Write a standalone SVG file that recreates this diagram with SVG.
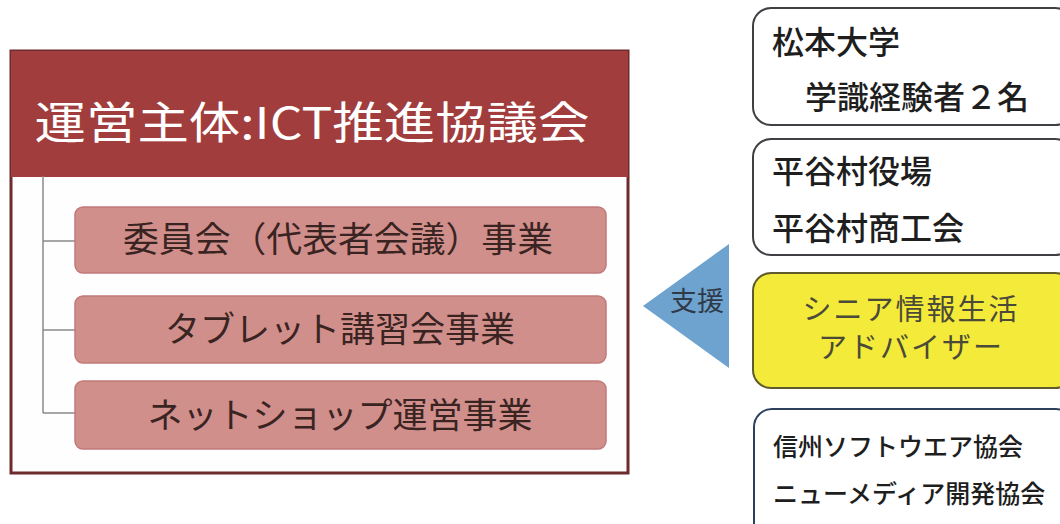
<svg xmlns="http://www.w3.org/2000/svg" width="1060" height="524" viewBox="0 0 1060 524">
<style>
text{font-family:"Noto Sans CJK JP","Noto Sans CJK SC",sans-serif;}
.sub{fill:#d18f8c;stroke:#c07a78;stroke-width:1.5;}
.subt{font-size:35px;fill:#3a2422;text-anchor:middle;}
.rbox{fill:#ffffff;stroke:#3f3f44;stroke-width:2;}
.rt{font-size:32px;fill:#1e1e1e;font-weight:500;}
.rs{font-size:25px;fill:#1e1e1e;font-weight:500;}
.yt{font-size:29px;fill:#4b4a38;text-anchor:middle;letter-spacing:2px;}
.tree{stroke:#8a8a8a;stroke-width:1.5;fill:none;}
</style>
<rect width="1060" height="524" fill="#ffffff"/>
<g id="council">
<rect x="11" y="51" width="617" height="422" fill="#fefefe" stroke="#6e2b2e" stroke-width="3"/>
<rect x="11" y="51" width="617" height="126" fill="#a13d3c"/>
<text x="312" y="139" font-size="44" fill="#ffffff" text-anchor="middle" textLength="555" lengthAdjust="spacingAndGlyphs">運営主体:ICT推進協議会</text>
</g>
<g id="connectors">
<path class="tree" d="M43 176 V413 M43 241 H75 M43 330 H75 M43 413 H75"/>
</g>
<g id="committee">
<rect class="sub" x="75" y="207" width="531" height="66" rx="8"/>
<text class="subt" x="338" y="252" textLength="430" lengthAdjust="spacingAndGlyphs">委員会（代表者会議）事業</text>
</g>
<g id="tablet">
<rect class="sub" x="75" y="296" width="531" height="67" rx="8"/>
<text class="subt" x="340" y="342">タブレット講習会事業</text>
</g>
<g id="netshop">
<rect class="sub" x="75" y="381" width="531" height="68" rx="8"/>
<text class="subt" x="340" y="428">ネットショップ運営事業</text>
</g>
<g id="support">
<polygon points="643,306 729,244 729,368" fill="#6fa3cf"/>
<text x="697" y="311" font-size="27" fill="#2f3a48" text-anchor="middle">支援</text>
</g>
<g id="matsumoto">
<rect class="rbox" x="753" y="8" width="320" height="117" rx="18"/>
<text class="rt" x="772" y="54">松本大学</text>
<text class="rt" x="805" y="109">学識経験者２名</text>
</g>
<g id="hiraya">
<rect class="rbox" x="753" y="139" width="320" height="116" rx="18"/>
<text class="rt" x="772" y="183">平谷村役場</text>
<text class="rt" x="772" y="240">平谷村商工会</text>
</g>
<g id="advisor">
<rect x="753" y="273" width="320" height="115" rx="18" fill="#f4ea3a" stroke="#5e5a2c" stroke-width="2"/>
<text class="yt" x="911" y="320">シニア情報生活</text>
<text class="yt" x="911" y="358">アドバイザー</text>
</g>
<g id="associations">
<rect x="754" y="409" width="320" height="140" rx="18" fill="#ffffff" stroke="#2d405c" stroke-width="2"/>
<text class="rs" x="773" y="456">信州ソフトウエア協会</text>
<text class="rs" x="773" y="503">ニューメディア開発協会</text>
</g>
</svg>
